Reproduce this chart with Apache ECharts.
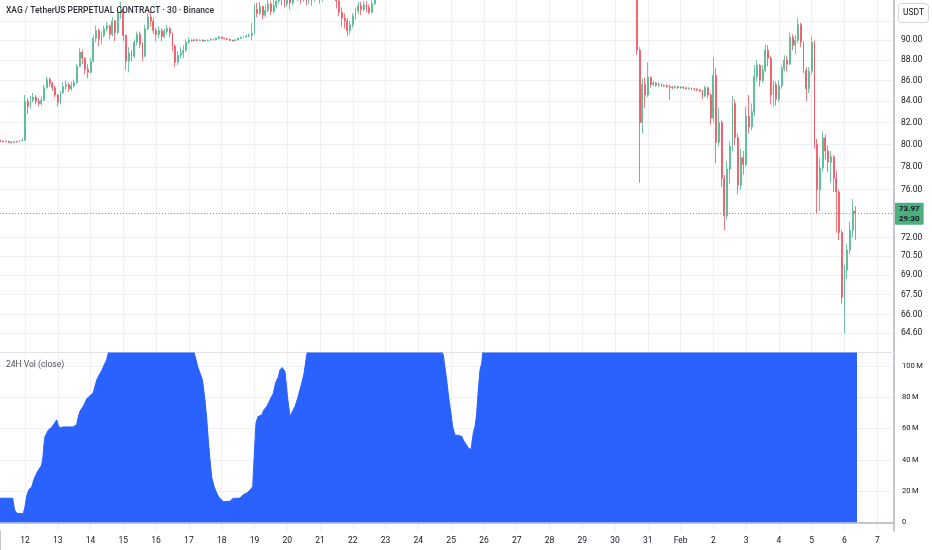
<!DOCTYPE html>
<html><head><meta charset="utf-8">
<script src="https://cdn.jsdelivr.net/npm/echarts@6/dist/echarts.min.js"></script>
<style>html,body{margin:0;padding:0;background:#fff}#c{width:932px;height:550px}</style>
</head><body><div id="c"></div>
<script>
// ---- tick labels ----
const dateTicks = [12,13,14,15,16,17,18,19,20,21,22,23,24,25,26,27,28,29,30,31,32,33,34,35,36,37,38];
const dateLabels = ['12','13','14','15','16','17','18','19','20','21','22','23','24','25','26','27','28','29','30','31','Feb','2','3','4','5','6','7'];
const priceGridTicks = [92,90,88,86,84,82,80,78,76,74,72,70.5,69,67.5,66,64.6];
const priceLabelTicks = [92,90,88,86,84,82,80,78,76,72,70.5,69,67.5,66,64.6];
const volTicks = [0,20,40,60,80,100];
const lastPrice = 73.97;
const lastCountdown = '29:30';

// ---- 2h candles: [open, close, low, high]; x in days of Jan (Feb 1 = 32) ----
const leftStart = 11.25;          // Jan 11 06:00
const rightStart = 30 + 2/3;      // Jan 30 16:00
const candleStep = 1/12;          // 2 hours
const leftCandles = [
[80.35,80.30,80.22,80.42],[80.30,80.25,80.18,80.36],[80.25,80.28,80.20,80.34],[80.28,80.20,80.14,80.31],
[80.20,80.18,80.10,80.26],[80.18,80.25,80.15,80.30],[80.25,80.22,80.16,80.32],[80.22,80.35,80.20,80.40],
[80.35,80.40,80.28,80.52],[80.40,84.00,80.30,84.60],[84.00,83.50,82.80,84.30],[83.50,84.10,83.30,84.50],
[84.10,84.40,83.90,84.80],[84.40,84.00,83.70,84.60],[84.00,83.80,83.50,84.30],[83.80,84.10,83.60,84.40],
[84.10,85.30,84.00,85.60],[85.30,86.10,85.20,86.40],[86.10,85.70,85.40,86.30],[85.70,85.30,85.00,85.90],
[85.30,84.60,84.40,85.50],[84.60,83.90,83.50,84.70],[83.90,84.80,83.70,85.00],[84.80,85.40,84.70,85.80],
[85.40,85.60,85.10,86.00],[85.60,85.20,84.90,85.80],[85.20,85.50,85.00,85.90],[85.50,85.80,85.30,86.10],
[85.80,87.40,85.70,87.60],[87.40,88.80,87.30,89.20],[88.80,88.20,87.60,89.00],[88.20,87.10,86.60,88.30],
[87.10,86.80,86.20,87.60],[86.80,87.90,86.70,88.20],[87.90,90.20,87.80,90.50],[90.20,91.00,89.80,91.50],
[91.00,90.10,89.40,91.20],[90.10,90.50,89.60,90.90],[90.50,91.20,90.30,91.50],[91.20,91.50,90.90,91.90],
[91.50,90.60,90.10,91.60],[90.60,92.00,90.40,92.40],[92.00,90.80,89.90,92.10],[90.80,92.80,90.60,93.30],
[92.80,93.20,92.20,94.00],[93.20,90.50,89.90,93.40],[90.50,87.90,87.00,90.60],[87.90,88.70,86.80,89.30],
[88.70,88.40,87.90,89.00],[88.40,89.80,88.20,90.10],[89.80,90.60,89.50,90.90],[90.60,89.60,89.20,90.90],
[89.60,88.40,87.90,89.80],[88.40,91.20,88.30,91.60],[91.20,92.40,91.00,92.80],[92.40,92.00,91.40,93.00],
[92.00,91.00,90.60,92.30],[91.00,90.60,89.90,91.30],[90.60,91.00,90.20,91.40],[91.00,90.40,89.90,91.20],
[90.40,90.90,90.20,91.20],[90.90,91.20,90.60,91.60],[91.20,90.70,90.30,91.40],[90.70,89.40,88.90,90.80],
[89.40,87.80,87.30,89.60],[87.80,88.50,87.50,88.90],[88.50,88.70,88.20,89.30],[88.70,89.00,88.20,89.50],
[89.00,89.80,88.80,90.10],[89.80,90.00,89.60,90.30],[90.00,89.95,89.85,90.10],[89.95,90.05,89.90,90.15],
[90.05,89.98,89.90,90.12],[89.98,90.02,89.92,90.10],[90.02,89.92,89.86,90.08],[89.92,89.96,89.86,90.04],
[89.96,90.02,89.90,90.10],[90.02,90.10,89.98,90.18],[90.10,90.05,89.98,90.16],[90.05,90.20,90.00,90.28],
[90.20,90.35,90.12,90.45],[90.35,90.20,90.12,90.40],[90.20,90.15,90.08,90.26],[90.15,90.10,90.02,90.22],
[90.10,90.00,89.92,90.16],[90.00,89.95,89.86,90.06],[89.95,90.05,89.90,90.12],[90.05,90.20,90.00,90.28],
[90.20,90.30,90.14,90.38],[90.30,90.35,90.22,90.44],[90.35,90.45,90.28,90.58],[90.45,90.50,90.30,90.70],
[90.50,90.70,90.00,91.80],[90.70,93.20,90.60,93.80],[93.20,92.80,92.40,93.90],[92.80,93.50,92.60,94.00],
[93.50,92.60,92.20,93.60],[92.60,93.10,92.40,93.70],[93.10,93.80,92.90,94.30],[93.80,93.00,92.60,94.10],
[93.00,93.60,92.80,94.20],[93.60,94.10,93.30,94.60],[94.10,94.50,93.80,95.00],[94.50,94.30,93.60,95.00],
[94.30,93.80,93.40,94.80],[93.80,94.50,93.50,95.20],[94.50,93.90,93.20,94.80],[93.90,94.60,93.60,95.30],
[94.60,95.20,94.20,95.80],[95.20,95.00,94.10,95.90],[95.00,94.60,93.80,95.50],[94.60,94.90,94.00,95.40],
[94.90,94.40,93.60,95.20],[94.40,94.80,93.80,95.50],[94.80,94.30,93.60,95.00],[94.30,94.90,94.00,95.60],
[94.90,95.30,94.50,96.00],[95.30,94.60,93.80,95.60],[94.60,94.90,94.00,95.50],[94.90,95.40,94.40,96.00],
[95.40,95.80,95.00,96.50],[95.80,95.50,94.80,96.30],[95.50,95.00,94.50,95.90],[95.00,94.10,93.30,95.30],
[94.10,92.90,92.50,94.50],[92.90,92.30,91.40,93.40],[92.30,92.00,91.20,92.80],[92.00,91.00,90.40,92.30],
[91.00,91.60,90.60,92.00],[91.60,92.50,91.30,92.80],[92.50,93.00,92.10,93.40],[93.00,93.60,92.70,94.00],
[93.60,93.20,92.60,94.00],[93.20,93.70,93.00,94.10],[93.70,93.40,92.90,94.10],[93.40,92.90,92.70,93.70],
[92.90,93.80,92.80,94.30],[93.80,95.00,93.70,96.00]
];
const rightCandles = [
[98.00,89.00,88.50,99.00],[89.00,82.00,76.60,89.30],[82.00,85.60,81.00,86.20],[85.60,84.60,83.40,86.30],
[84.60,86.30,84.40,87.80],[86.30,85.60,85.30,86.40],[85.60,85.75,85.45,85.95],[85.75,85.55,85.40,85.85],
[85.55,85.62,85.40,85.80],[85.62,85.45,85.35,85.72],[85.45,85.52,85.36,85.66],[85.52,85.40,85.30,85.60],
[85.40,85.35,84.10,85.60],[85.35,85.30,85.18,85.46],[85.30,85.40,85.22,85.52],[85.40,85.30,85.18,85.48],
[85.30,85.35,85.20,85.46],[85.35,85.28,85.16,85.44],[85.28,85.20,85.10,85.36],[85.20,85.25,85.12,85.34],
[85.25,85.18,85.06,85.32],[85.18,85.15,85.02,85.28],[85.15,85.10,84.96,85.24],[85.10,85.00,84.86,85.16],
[85.00,84.50,84.20,85.10],[84.50,85.30,84.40,85.50],[85.30,84.60,84.30,85.40],[84.60,82.40,81.80,84.80],
[82.40,86.50,82.00,88.30],[86.50,80.20,78.30,87.20],[80.20,82.00,79.80,83.40],[82.00,77.00,76.20,82.20],
[77.00,73.80,72.60,77.30],[73.80,77.80,73.50,78.50],[77.80,79.80,76.50,80.30],[79.80,83.80,79.40,84.50],
[83.80,80.60,79.90,84.20],[80.60,76.40,75.60,81.00],[76.40,78.80,76.00,79.60],[78.80,78.20,77.30,79.40],
[78.20,82.60,78.00,83.50],[82.60,81.60,81.00,84.60],[81.60,83.00,81.30,83.80],[83.00,86.40,82.60,87.50],
[86.40,87.50,85.90,88.00],[87.50,86.00,85.40,87.60],[86.00,87.00,85.80,87.50],[87.00,89.00,86.80,89.60],
[89.00,88.20,87.40,89.50],[88.20,84.60,83.70,88.40],[84.60,85.60,83.50,86.00],[85.60,84.20,83.60,85.90],
[84.20,85.50,83.90,86.00],[85.50,87.20,85.20,87.50],[87.20,88.00,86.90,88.50],[88.00,87.60,86.90,88.40],
[87.60,90.30,87.50,90.80],[90.30,89.50,89.00,90.60],[89.50,90.00,88.60,90.50],[90.00,91.60,89.70,92.30],
[91.60,89.80,89.30,91.80],[89.80,87.00,86.70,89.90],[87.00,85.20,84.00,87.30],[85.20,86.90,84.80,87.30],
[86.90,89.80,86.60,90.40],[89.80,80.00,79.60,90.00],[80.00,76.00,74.00,80.50],[76.00,77.90,74.20,78.80],
[77.90,80.60,77.50,81.20],[80.60,79.40,78.60,80.90],[79.40,78.40,77.50,79.90],[78.40,78.90,76.60,79.40],
[78.90,77.00,75.80,79.00],[77.00,75.80,72.40,77.60],[75.80,72.40,71.80,76.00],[72.40,67.30,66.80,72.60],
[67.30,69.40,64.60,69.80],[69.40,71.00,68.70,71.50],[71.00,72.60,70.60,73.30],[72.60,74.20,72.00,75.20],
[74.20,73.97,71.80,74.60]
];

// ---- 24H rolling volume (millions) ----
const volDays = [11.237,11.625,11.680,11.747,11.948,12.000,12.052,12.122,12.204,12.274,12.357,12.427,12.509,12.549,12.580,12.610,12.711,12.824,12.967,13.016,13.068,13.159,13.473,13.577,13.632,13.678,13.800,13.882,13.983,14.084,14.187,14.257,14.340,14.410,14.492,14.547,14.593,15.813,17.033,17.155,17.216,17.277,17.338,17.415,17.491,17.537,17.592,17.643,17.695,17.766,17.848,17.918,18.049,18.254,18.345,18.559,18.650,18.763,18.864,18.946,18.986,19.047,19.108,19.221,19.291,19.373,19.474,19.575,19.642,19.727,19.779,19.840,19.932,20.008,20.084,20.160,20.237,20.328,20.441,20.511,20.572,20.618,21.304,23.440,24.660,24.761,24.812,24.864,24.913,24.965,25.011,25.047,25.118,25.240,25.331,25.371,25.453,25.523,25.605,25.657,25.682,25.727,25.773,25.828,25.880,25.932,25.972,26.490,29.541,32.591,37.382];
const volMillions = [15.4,15.4,8,5.8,5.5,10,17,21,22.6,27.5,31.5,34,36.6,42,50,54.8,59,61,65.5,62,60.3,61,61,62.5,68,71,75,79,81,83,91,94,97,100.5,104,109,120,160,125,109,104,99,95.5,91,78,68,52.6,40,29,23,18.7,16,13.2,13.5,15.3,15.5,17.5,18.7,20.5,22.8,40,63.5,67.6,68.6,72,74,78.2,82.6,89,93,97.5,99,96.4,80,67.6,71,74,80,89,95,104,110,140,150,112,107,99,91,82,74,67,61,55.8,55.5,54.8,52.6,50,47.5,46.5,47,58,61,68,84.6,97.4,101.7,110,130,200,220,180];

// ---- build ----
const candleData = [];
leftCandles.forEach((d, i) => candleData.push([leftStart + i * candleStep, d[0], d[1], d[2], d[3]]));
rightCandles.forEach((d, i) => candleData.push([rightStart + i * candleStep, d[0], d[1], d[2], d[3]]));
const volData = volDays.map((d, i) => [d, volMillions[i]]);

const FONT = 'Roboto';
const GRID_C = '#edf0f5';
const AXIS_C = '#b2b5be';
const TXT = '#131722';
const UP = '#4cb98e', DOWN = '#f0545f';
const X_MIN = 11.2373, X_MAX = 38.51;

const dateFmt = v => { const k = dateTicks.indexOf(Math.round(v)); return k >= 0 ? dateLabels[k] : ''; };

const chart = echarts.init(document.getElementById('c'), null, {renderer: 'canvas'});
chart.setOption({
  animation: false,
  backgroundColor: '#ffffff',
  textStyle: {fontFamily: FONT},
  title: [
    {text: 'XAG / TetherUS PERPETUAL CONTRACT · 30 · Binance', left: 6, top: 6, padding: 0,
     textStyle: {fontFamily: FONT, fontSize: 8.5, fontWeight: 500, color: '#2a2e39'}},
    {text: '24H Vol (close)', left: 6, top: 360, padding: 0,
     textStyle: {fontFamily: FONT, fontSize: 8.5, fontWeight: 'normal', color: '#50535e'}},
    {text: 'USDT', right: 3, top: 3, padding: [5, 5, 6, 5], borderColor: '#d1d4dc', borderWidth: 1, borderRadius: 3,
     backgroundColor: '#ffffff', textStyle: {fontFamily: FONT, fontSize: 8.5, fontWeight: 'normal', color: TXT}}
  ],
  grid: [
    {left: 0, right: 38, top: 0, bottom: 198},
    {left: 0, right: 38, top: 353, bottom: 19},
    {left: 0, right: 38, top: 531, bottom: 0}
  ],
  xAxis: [
    {gridIndex: 0, type: 'value', min: X_MIN, max: X_MAX,
     axisLine: {show: true, lineStyle: {color: '#e0e3eb', width: 1}},
     axisTick: {show: false, customValues: dateTicks}, axisLabel: {show: false},
     splitLine: {show: true, lineStyle: {color: GRID_C, width: 1}}},
    {gridIndex: 1, type: 'value', min: X_MIN, max: X_MAX,
     axisLine: {show: true, lineStyle: {color: AXIS_C, width: 1.5}},
     axisTick: {show: false, customValues: dateTicks},
     axisLabel: {customValues: dateTicks, formatter: dateFmt, fontFamily: FONT, fontSize: 8.5, color: TXT, margin: 5},
     splitLine: {show: true, lineStyle: {color: GRID_C, width: 1}}},
    {gridIndex: 2, type: 'value', min: 0, max: 1, show: false}
  ],
  yAxis: [
    {gridIndex: 0, type: 'log', logBase: 10, min: 63.25, max: 94.2, position: 'right',
     axisLine: {show: true, lineStyle: {color: AXIS_C, width: 1.5}},
     axisTick: {show: false, customValues: priceGridTicks},
     axisLabel: {customValues: priceLabelTicks, formatter: v => Number(v).toFixed(2), fontFamily: FONT, fontSize: 8.5, color: TXT, margin: 7},
     splitLine: {show: true, lineStyle: {color: GRID_C, width: 1}}},
    {gridIndex: 1, type: 'value', min: -5.57, max: 108.3, position: 'right',
     axisLine: {show: true, lineStyle: {color: AXIS_C, width: 1.5}},
     axisTick: {show: false, customValues: volTicks},
     axisLabel: {customValues: volTicks, formatter: v => v === 0 ? '0' : v + '\u2009M', fontFamily: FONT, fontSize: 7.5, color: TXT, margin: 8},
     splitLine: {show: true, lineStyle: {color: GRID_C, width: 1}}},
    {gridIndex: 2, type: 'value', min: 0, max: 1, position: 'right',
     axisLine: {show: true, lineStyle: {color: AXIS_C, width: 1.5}},
     axisTick: {show: false}, axisLabel: {show: false}, splitLine: {show: false}}
  ],
  series: [
    {type: 'candlestick', xAxisIndex: 0, yAxisIndex: 0, data: candleData, barWidth: 1.4, clip: true,
     itemStyle: {color: UP, color0: DOWN, borderColor: UP, borderColor0: DOWN, borderWidth: 0.8},
     markLine: {silent: true, symbol: ['none', 'none'], animation: false,
       data: [{yAxis: lastPrice}],
       lineStyle: {type: [1, 2], color: '#5cbf8f', width: 1},
       label: {show: true, position: 'end', distance: 1,
         formatter: lastPrice.toFixed(2) + '\n' + lastCountdown,
         backgroundColor: '#4caf7d', color: TXT, fontFamily: FONT, fontSize: 8, fontWeight: 'bold',
         lineHeight: 10, padding: [1, 4, 1, 4], borderRadius: 1}}},
    {type: 'line', xAxisIndex: 1, yAxisIndex: 1, data: volData, showSymbol: false, clip: true,
     lineStyle: {color: '#2962ff', width: 1}, areaStyle: {color: '#2962ff', opacity: 1}}
  ]
});
</script>
</body></html>
